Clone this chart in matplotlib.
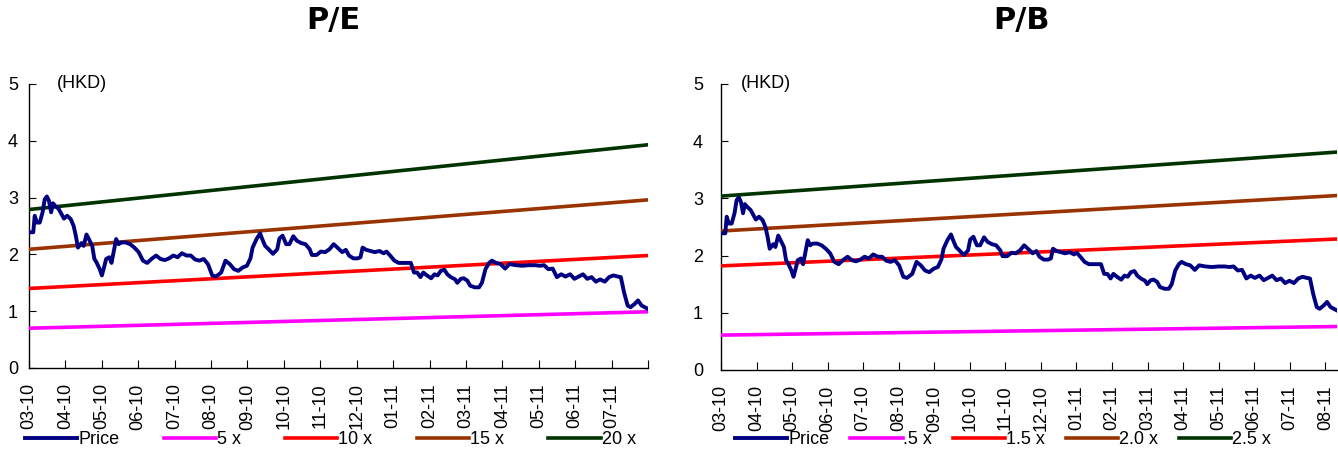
import matplotlib
matplotlib.use("Agg")
import matplotlib.pyplot as plt
import numpy as np

# ---------------- data ----------------
# time in months since 2010-03 (start of window)
t_end = 17.33
price_t = [0.00, 0.12, 0.16, 0.22, 0.30, 0.38, 0.44, 0.50, 0.56, 0.62, 0.67, 0.74, 0.83, 0.91, 0.98,
           1.07, 1.17, 1.25, 1.31, 1.37, 1.47, 1.53, 1.61, 1.70, 1.77, 1.83, 1.89, 1.98, 2.04, 2.10,
           2.16, 2.25, 2.31, 2.37, 2.44, 2.51, 2.58, 2.71, 2.83, 2.95, 3.07, 3.19, 3.31, 3.43, 3.56,
           3.68, 3.80, 3.92, 4.04, 4.16, 4.28, 4.41, 4.53, 4.65, 4.77, 4.89, 5.01, 5.13, 5.23, 5.38,
           5.50, 5.62, 5.74, 5.86, 5.98, 6.10, 6.20, 6.26, 6.37, 6.47, 6.53, 6.61, 6.71, 6.83, 6.95,
           7.01, 7.10, 7.20, 7.29, 7.40, 7.50, 7.62, 7.74, 7.86, 7.92, 8.05, 8.17, 8.29, 8.41, 8.53,
           8.65, 8.77, 8.87, 8.96, 9.08, 9.20, 9.28, 9.34, 9.44, 9.56, 9.68, 9.81, 9.93, 10.01, 10.11,
           10.23, 10.35, 10.53, 10.69, 10.78, 10.87, 10.96, 11.04, 11.14, 11.26, 11.35, 11.44, 11.53,
           11.63, 11.71, 11.81, 11.93, 11.99, 12.09, 12.17, 12.27, 12.35, 12.48, 12.60, 12.68, 12.78,
           12.88, 12.96, 13.08, 13.20, 13.33, 13.45, 13.63, 13.81, 13.99, 14.17, 14.30, 14.42, 14.54,
           14.66, 14.78, 14.90, 15.02, 15.15, 15.27, 15.39, 15.51, 15.63, 15.75, 15.87, 15.99, 16.12,
           16.24, 16.36, 16.48, 16.57, 16.66, 16.76, 16.84, 16.96, 17.05, 17.15, 17.33]
price = [2.39, 2.39, 2.68, 2.56, 2.56, 2.74, 2.97, 3.02, 2.94, 2.74, 2.90, 2.85, 2.80, 2.71, 2.63,
         2.68, 2.62, 2.50, 2.33, 2.12, 2.20, 2.15, 2.35, 2.24, 2.15, 1.92, 1.86, 1.74, 1.63, 1.77,
         1.92, 1.95, 1.85, 2.04, 2.27, 2.18, 2.21, 2.21, 2.18, 2.12, 2.04, 1.89, 1.85, 1.92, 1.98,
         1.92, 1.90, 1.93, 1.98, 1.95, 2.02, 1.98, 1.98, 1.91, 1.89, 1.92, 1.83, 1.63, 1.61, 1.68,
         1.89, 1.83, 1.74, 1.71, 1.77, 1.80, 1.93, 2.12, 2.27, 2.37, 2.27, 2.15, 2.09, 2.01, 2.09,
         2.28, 2.33, 2.18, 2.18, 2.32, 2.24, 2.20, 2.18, 2.09, 1.99, 1.99, 2.05, 2.04, 2.09, 2.18,
         2.11, 2.04, 2.08, 1.98, 1.93, 1.93, 1.95, 2.12, 2.08, 2.06, 2.04, 2.06, 2.02, 2.05, 1.98,
         1.89, 1.85, 1.85, 1.85, 1.68, 1.68, 1.60, 1.68, 1.63, 1.58, 1.65, 1.63, 1.71,
         1.73, 1.65, 1.60, 1.56, 1.50, 1.57, 1.58, 1.54, 1.45, 1.42, 1.42, 1.50, 1.74,
         1.85, 1.89, 1.85, 1.83, 1.75, 1.83, 1.81, 1.80, 1.81, 1.81, 1.80, 1.81, 1.74,
         1.75, 1.60, 1.65, 1.61, 1.65, 1.57, 1.61, 1.65, 1.57, 1.60, 1.52, 1.56, 1.52,
         1.60, 1.63, 1.61, 1.60, 1.33, 1.10, 1.07, 1.13, 1.19, 1.10, 1.04]

pe_labels = ["5 x", "10 x", "15 x", "20 x"]
pe_start = [0.70, 1.40, 2.09, 2.79]
pe_end = [0.99, 1.98, 2.96, 3.93]

pb_labels = [".5 x", "1.5 x", "2.0 x", "2.5 x"]
pb_start = [0.61, 1.82, 2.43, 3.04]
pb_end = [0.76, 2.29, 3.05, 3.81]

band_colors = ["#FF00FF", "#FF0000", "#993300", "#003300"]
price_color = "#000080"

month_labels = ["03-10", "04-10", "05-10", "06-10", "07-10", "08-10", "09-10", "10-10", "11-10",
                "12-10", "01-11", "02-11", "03-11", "04-11", "05-11", "06-11", "07-11", "08-11"]

# ---------------- plotting ----------------
plt.rcParams['font.family'] = ['Liberation Sans', 'DejaVu Sans']
FS = 13

fig = plt.figure(figsize=(13.38, 4.54), dpi=100)
axL = fig.add_axes([29 / 1338, 1 - 368 / 454, 619 / 1338, 284 / 454])
axR = fig.add_axes([721 / 1338, 1 - 370 / 454, 616 / 1338, 286 / 454])


def style(ax, ylab_pad, hkd_x):
    ax.set_ylim(0, 5)
    ax.set_xlim(0, t_end)
    ax.set_yticks([0, 1, 2, 3, 4, 5])
    for s in ["top", "right"]:
        ax.spines[s].set_visible(False)
    for s in ["left", "bottom"]:
        ax.spines[s].set_linewidth(1.0)
        ax.spines[s].set_color("#000000")
    ax.tick_params(axis="y", direction="in", length=5, labelsize=FS, pad=ylab_pad)
    ax.tick_params(axis="x", direction="in", length=6, labelsize=FS, pad=11, labelrotation=90)
    ax.text(hkd_x, 1.0, "(HKD)", transform=ax.transAxes,
            fontsize=FS, ha="left", va="center")


def draw(ax, starts, ends, labels):
    handles = []
    h, = ax.plot(price_t, price, color=price_color, lw=2.8, label="Price", zorder=5,
                 solid_joinstyle="round")
    handles.append(h)
    for s, e, lab, c in zip(starts, ends, labels, band_colors):
        h, = ax.plot([0, t_end], [s, e], color=c, lw=2.6, label=lab, zorder=3)
        handles.append(h)
    return handles

hL = draw(axL, pe_start, pe_end, pe_labels)
hR = draw(axR, pb_start, pb_end, pb_labels)
style(axL, 8, 0.045)
style(axR, 13, 0.032)

# left: 18 evenly spaced ticks across the axis, last unlabeled
axL.set_xticks(np.linspace(0, t_end, 18))
axL.set_xticklabels(month_labels[:17] + [""])
# right: monthly ticks
axR.set_xticks(np.arange(18))
axR.set_xticklabels(month_labels)

fig.text(333 / 1338, 1 - 20 / 454, "P/E", fontsize=22, fontweight="bold",
         family="DejaVu Sans", ha="center", va="center")
fig.text(1022 / 1338, 1 - 20 / 454, "P/B", fontsize=22, fontweight="bold",
         family="DejaVu Sans", ha="center", va="center")

fig.legend(handles=hL, loc="center left", bbox_to_anchor=(25 / 1338, 1 - 440 / 454), ncol=5,
           frameon=False, fontsize=FS, handlelength=2.9, handletextpad=0.05,
           columnspacing=2.45, borderaxespad=0, borderpad=0)
fig.legend(handles=hR, loc="center left", bbox_to_anchor=(735 / 1338, 1 - 440 / 454), ncol=5,
           frameon=False, fontsize=FS, handlelength=2.9, handletextpad=0.05,
           columnspacing=1.15, borderaxespad=0, borderpad=0)

fig.savefig("out.png", dpi=100)
